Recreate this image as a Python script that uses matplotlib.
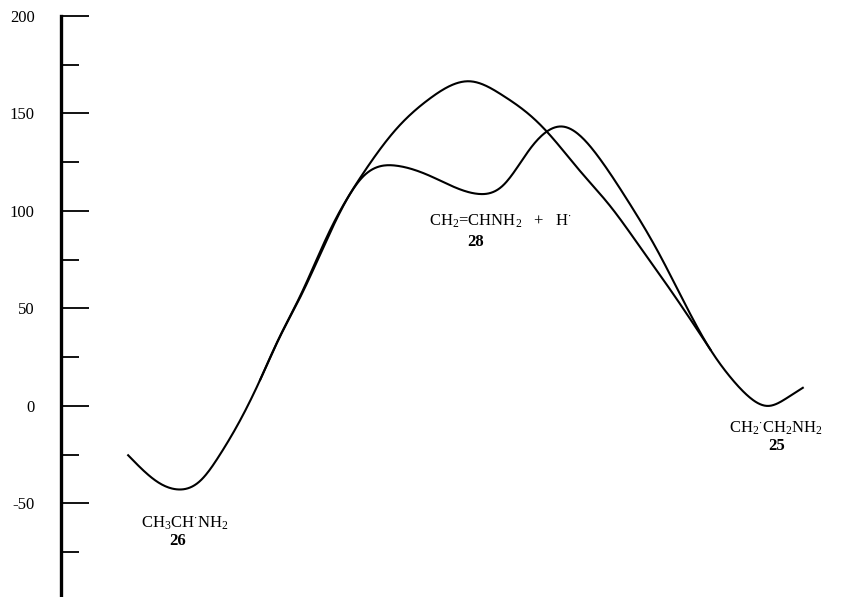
import matplotlib.pyplot as plt
import numpy as np

plt.rcParams['font.family'] = 'Liberation Serif'
plt.rcParams['mathtext.fontset'] = 'custom'
plt.rcParams['mathtext.rm'] = 'Liberation Serif'
plt.rcParams['mathtext.it'] = 'Liberation Serif'
plt.rcParams['mathtext.bf'] = 'Liberation Serif:bold'
plt.rcParams['axes.unicode_minus'] = False

# reaction coordinate (arbitrary units) and energies (kJ/mol)
path_x = [8.5, 10.4, 12.5, 14.7, 17.6, 20.1, 22.7, 25.2, 27.7, 30.3, 34.1, 38.2,
          42.5, 46.7, 52.7, 55.9, 59.4, 63.5, 68.2, 71.6, 75.4, 78.7, 82.2,
          84.7, 86.8, 89.5, 91.9, 93.9]
path_e = [-25.3, -33.0, -39.7, -42.8, -38.5, -25.1, -7.2, 13.3, 35.4, 55.9, 89.2,
          117.5, 123.2, 118.0, 108.8, 112.9, 132.0, 143.3, 126.8, 106.2, 80.4,
          54.6, 28.9, 14.9, 5.7, 0.0, 4.1, 9.3]

direct_x = [25.2, 27.7, 30.3, 34.1, 38.2, 42.5, 46.7, 51.8, 55.9, 59.4, 61.5,
            65.7, 69.5, 73.3, 77.5, 82.2]
direct_e = [13.3, 35.6, 56.6, 90.5, 119.0, 142.3, 157.7, 166.5, 159.3, 149.0,
            140.7, 120.5, 102.6, 81.5, 57.4, 28.9]

yticks_major = [-50, 0, 50, 100, 150, 200]
yticks_minor = [-75, -25, 25, 75, 125, 175]


def natural_spline(xs, ys, n=600):
    x = np.asarray(xs, float)
    y = np.asarray(ys, float)
    h = np.diff(x)
    m = len(x)
    A = np.zeros((m, m))
    b = np.zeros(m)
    A[0, 0] = A[-1, -1] = 1
    for i in range(1, m - 1):
        A[i, i - 1] = h[i - 1]
        A[i, i] = 2 * (h[i - 1] + h[i])
        A[i, i + 1] = h[i]
        b[i] = 6 * ((y[i + 1] - y[i]) / h[i] - (y[i] - y[i - 1]) / h[i - 1])
    M = np.linalg.solve(A, b)
    xf = np.linspace(x[0], x[-1], n)
    k = np.clip(np.searchsorted(x, xf) - 1, 0, m - 2)
    t0 = x[k + 1] - xf
    t1 = xf - x[k]
    hk = h[k]
    yf = (M[k] * t0 ** 3 + M[k + 1] * t1 ** 3) / (6 * hk) \
        + (y[k] / hk - M[k] * hk / 6) * t0 + (y[k + 1] / hk - M[k + 1] * hk / 6) * t1
    return xf, yf


fig = plt.figure(figsize=(8.51, 5.97), dpi=100)
ax = fig.add_axes([61 / 851, 0, 1 - 61 / 851, 1 - 16 / 597])

ax.plot(*natural_spline(path_x, path_e), color='black', lw=1.5)
ax.plot(*natural_spline(direct_x, direct_e), color='black', lw=1.5)

ax.set_xlim(0, 100)
ax.set_ylim(-98, 200)
for s in ['top', 'right', 'bottom']:
    ax.spines[s].set_visible(False)
ax.spines['left'].set_linewidth(2.4)
ax.set_xticks([])
ax.set_yticks(yticks_major)
ax.set_yticks(yticks_minor, minor=True)
ax.tick_params(axis='y', which='major', direction='in', length=20, width=1.3,
               pad=19, labelsize=12)
ax.tick_params(axis='y', which='minor', direction='in', length=13, width=1.3)

ax.text(55.6, 94.5, r'CH$_2$=CHNH$_2$   +   H$^{\cdot}$', ha='center',
        va='center', fontsize=12)
ax.text(52.5, 84, '28', ha='center', va='center', fontsize=12, fontweight='bold')
ax.text(15.7, -60, r'CH$_3$CH$^{\cdot}$NH$_2$', ha='center', va='center',
        fontsize=12)
ax.text(14.8, -69.5, '26', ha='center', va='center', fontsize=12, fontweight='bold')
ax.text(90.5, -11.5, r'CH$_2$$^{\cdot}$CH$_2$NH$_2$', ha='center', va='center',
        fontsize=12)
ax.text(90.6, -20.5, '25', ha='center', va='center', fontsize=12, fontweight='bold')

fig.savefig('out.png', dpi=100)
